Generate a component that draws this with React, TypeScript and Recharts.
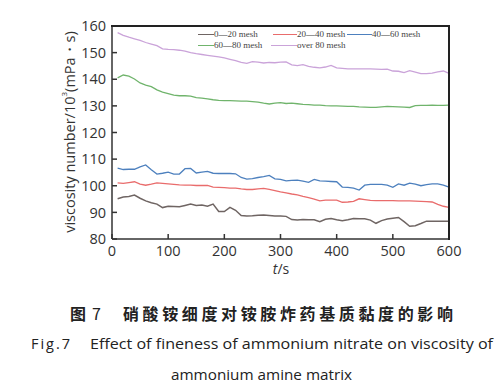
import { LineChart, Line, XAxis, YAxis, Label } from 'recharts';

const times = [
  10, 20, 30, 40, 50, 60, 70, 80, 90, 100, 110, 120, 130, 140, 150, 160, 170, 180, 190, 200,
  210, 220, 230, 240, 250, 260, 270, 280, 290, 300, 310, 320, 330, 340, 350, 360, 370, 380, 390, 400,
  410, 420, 430, 440, 450, 460, 470, 480, 490, 500, 510, 520, 530, 540, 550, 560, 570, 580, 590, 600,
];

const mesh0to20 = [
  95.1, 95.8, 96.0, 96.5, 95.3, 94.3, 93.6, 93.1, 91.8, 92.3, 92.2, 92.1, 92.6, 93.1, 92.6, 92.8, 92.3, 93.1, 90.3, 90.3,
  91.9, 90.8, 88.8, 88.6, 88.7, 88.9, 89.0, 88.8, 88.6, 88.6, 88.5, 87.3, 87.1, 87.3, 87.2, 87.2, 86.5, 87.4, 87.7, 87.2,
  86.9, 87.2, 87.7, 87.6, 87.6, 87.1, 85.9, 86.9, 87.5, 87.8, 88.1, 86.5, 84.8, 85.0, 85.8, 86.7, 86.7, 86.7, 86.7, 86.7,
];

const mesh20to40 = [
  101.1, 100.9, 101.2, 101.5, 100.6, 100.2, 100.6, 101.1, 100.9, 100.7, 100.5, 100.3, 100.2, 100.2, 100.1, 100.1, 100.1, 99.5, 99.4, 99.3,
  99.1, 99.1, 98.8, 98.6, 98.6, 98.8, 99.0, 98.6, 98.2, 97.7, 97.3, 96.9, 96.6, 96.0, 95.5, 95.0, 94.3, 94.6, 94.6, 94.6,
  93.8, 93.9, 94.1, 95.1, 94.8, 94.5, 94.4, 94.4, 94.4, 94.4, 94.3, 94.3, 94.3, 94.2, 94.1, 94.0, 93.9, 93.0, 92.3, 91.9,
];

const mesh40to60 = [
  106.6, 106.1, 106.2, 106.2, 107.1, 107.8, 106.0, 104.4, 104.7, 105.1, 104.4, 104.4, 106.4, 106.5, 104.8, 105.1, 105.4, 104.7, 104.6, 104.6,
  104.6, 104.5, 103.1, 102.5, 102.7, 103.1, 103.4, 103.9, 102.6, 102.4, 101.8, 102.0, 102.1, 101.7, 101.3, 102.4, 101.8, 101.7, 101.6, 101.5,
  99.5, 99.4, 99.1, 98.4, 100.2, 100.5, 100.5, 100.5, 100.2, 99.4, 100.7, 100.2, 101.0, 100.6, 100.0, 100.4, 100.7, 100.7, 100.2, 99.5,
];

const mesh60to80 = [
  140.5, 141.6, 141.2, 140.1, 138.6, 137.8, 137.2, 136.0, 135.2, 134.6, 134.0, 133.8, 133.8, 133.7, 133.1, 132.9, 132.6, 132.3, 132.1, 132.0,
  132.0, 131.9, 131.8, 131.8, 131.6, 131.4, 131.0, 130.7, 131.0, 131.2, 130.9, 131.0, 130.8, 130.6, 130.5, 130.3, 130.3, 130.1, 130.0, 130.0,
  129.9, 129.8, 129.8, 129.6, 129.5, 129.4, 129.4, 129.6, 129.8, 129.7, 129.6, 129.5, 129.4, 130.1, 130.2, 130.2, 130.3, 130.2, 130.2, 130.3,
];

const meshOver80 = [
  157.5, 156.5, 155.8, 155.2, 154.6, 153.8, 153.2, 152.6, 151.4, 151.2, 151.1, 150.9, 150.6, 150.0, 149.6, 149.3, 149.0, 148.7, 148.4, 148.0,
  147.5, 147.0, 146.3, 146.0, 146.6, 146.4, 146.1, 146.3, 146.2, 146.4, 146.5, 145.4, 145.1, 145.5, 144.8, 144.5, 144.3, 144.6, 145.2, 144.3,
  144.1, 143.9, 143.9, 143.9, 143.9, 143.9, 143.8, 143.7, 143.8, 143.1, 143.0, 142.5, 143.2, 142.7, 142.1, 142.1, 142.3, 142.8, 143.1, 142.2,
];

const xTicks = [0, 100, 200, 300, 400, 500, 600];
const yTicks = [80, 90, 100, 110, 120, 130, 140, 150, 160];

const seriesNames = ['0—20 mesh', '20—40 mesh', '40—60 mesh', '60—80 mesh', 'over 80 mesh'];
const seriesKeys = ['a', 'b', 'c', 'd', 'e'];
const seriesColors = ['#6f6563', '#e96c6c', '#4d80be', '#70b46c', '#caa3d9'];

const data = times.map((t, i) => ({
  t,
  a: mesh0to20[i],
  b: mesh20to40[i],
  c: mesh40to60[i],
  d: mesh60to80[i],
  e: meshOver80[i],
}));

const W = 500;
const H = 280;
const margin = { top: 26, right: 51, bottom: 11, left: 62 };
const yAxisW = 50;
const xAxisH = 30;
const plot = {
  left: margin.left + yAxisW,
  top: margin.top,
  width: W - margin.left - yAxisW - margin.right,
  height: H - margin.top - margin.bottom - xAxisH,
};

// legend slots inside the plot: [lineStart, lineEnd, top]
const legendSlots = [
  [198, 214, 29],
  [273, 297, 29],
  [347, 372, 29],
  [198, 214, 40],
  [271, 297, 40],
];

function LegendBox() {
  return (
    <div style={{ position: 'absolute', left: 0, top: 0, width: 500, height: 60, pointerEvents: 'none', zIndex: 5 }}>
      {seriesNames.map((name, i) => {
        const [x0, x1, top] = legendSlots[i];
        return (
          <div key={name}>
            <div
              style={{
                position: 'absolute',
                left: x0,
                top: top + 5,
                width: x1 - x0,
                height: 1.4,
                background: seriesColors[i],
              }}
            />
            <div
              style={{
                position: 'absolute',
                left: x1,
                top,
                fontFamily: '"Liberation Serif", serif',
                fontSize: 9,
                lineHeight: '11px',
                color: '#444',
                whiteSpace: 'nowrap',
              }}
            >
              {name}
            </div>
          </div>
        );
      })}
    </div>
  );
}

const tickStyle = { fontFamily: '"Open Sans", sans-serif', fontSize: 14.5, fill: '#333' };

function YTitle() {
  const cx = 69;
  const cy = 132;
  return (
    <text
      x={cx}
      y={cy}
      transform={`rotate(-90, ${cx}, ${cy})`}
      textAnchor="middle"
      dominantBaseline="central"
      fontFamily='"Open Sans", sans-serif'
      fontSize={14.5}
      fill="#333"
    >
      viscosity number/10
      <tspan fontSize={8} dy={-6}>3</tspan>
      <tspan dy={6}>(mPa・s)</tspan>
    </text>
  );
}

function XTitle() {
  return (
    <text x={281} y={268} textAnchor="middle" dominantBaseline="central" fontFamily='"Open Sans", sans-serif' fontSize={14} fill="#333">
      <tspan fontStyle="italic">t</tspan>/s
    </text>
  );
}

export default function App() {
  return (
    <div style={{ position: 'absolute', left: 0, top: 0, width: 500, height: 391, background: '#fff' }}>
      <LineChart width={W} height={H} data={data} margin={margin}>
        <XAxis
          dataKey="t"
          type="number"
          domain={[0, 600]}
          ticks={xTicks}
          tick={tickStyle}
          tickSize={-5}
          tickMargin={12}
          height={xAxisH}
          stroke="#333"
          strokeWidth={1.5}
          interval={0}
        >
          <Label content={<XTitle />} />
        </XAxis>
        <YAxis
          type="number"
          domain={[80, 160]}
          ticks={yTicks}
          tick={tickStyle}
          tickSize={-5}
          tickMargin={11}
          width={yAxisW}
          stroke="#333"
          strokeWidth={1.5}
          interval={0}
        >
          <Label content={<YTitle />} />
        </YAxis>
        {seriesKeys.map((k, i) => (
          <Line
            key={k}
            type="linear"
            dataKey={k}
            name={seriesNames[i]}
            stroke={seriesColors[i]}
            strokeWidth={i === 0 ? 1.5 : 1.3}
            dot={false}
            isAnimationActive={false}
          />
        ))}
      </LineChart>
      {/* plot frame: top and right edges */}
      <div
        style={{
          position: 'absolute',
          left: plot.left - 1,
          top: plot.top - 1,
          width: plot.width,
          height: plot.height,
          borderTop: '2px solid #222',
          borderRight: '2px solid #222',
          pointerEvents: 'none',
          zIndex: 10,
        }}
      />
      <LegendBox />
      <svg width={500} height={111} style={{ position: 'absolute', left: 0, top: 280 }}>
        <text x={70} y={33} fontFamily='"Noto Sans CJK SC", sans-serif' fontWeight={700} fontSize={16} fill="#222" dominantBaseline="central">
          图
        </text>
        <text x={92} y={33} fontFamily='"Noto Sans CJK SC", sans-serif' fontWeight={400} fontSize={16} fill="#222" dominantBaseline="central">
          7
        </text>
        <text
          x={123}
          y={33}
          fontFamily='"Noto Sans CJK SC", sans-serif'
          fontWeight={700}
          fontSize={16}
          fill="#222"
          dominantBaseline="central"
          textLength={330}
          lengthAdjust="spacing"
        >
          硝酸铵细度对铵胺炸药基质黏度的影响
        </text>
        <text x={31} y={63} fontFamily='"Open Sans", sans-serif' fontSize={14.5} fill="#222" dominantBaseline="central" textLength={39} lengthAdjust="spacing">
          Fig.7
        </text>
        <text x={90} y={63} fontFamily='"Open Sans", sans-serif' fontSize={14.5} fill="#222" dominantBaseline="central" textLength={403} lengthAdjust="spacingAndGlyphs">
          Effect of fineness of ammonium nitrate on viscosity of
        </text>
        <text x={171} y={94} fontFamily='"Open Sans", sans-serif' fontSize={14.5} fill="#222" dominantBaseline="central" textLength={181} lengthAdjust="spacingAndGlyphs">
          ammonium amine matrix
        </text>
      </svg>
    </div>
  );
}
